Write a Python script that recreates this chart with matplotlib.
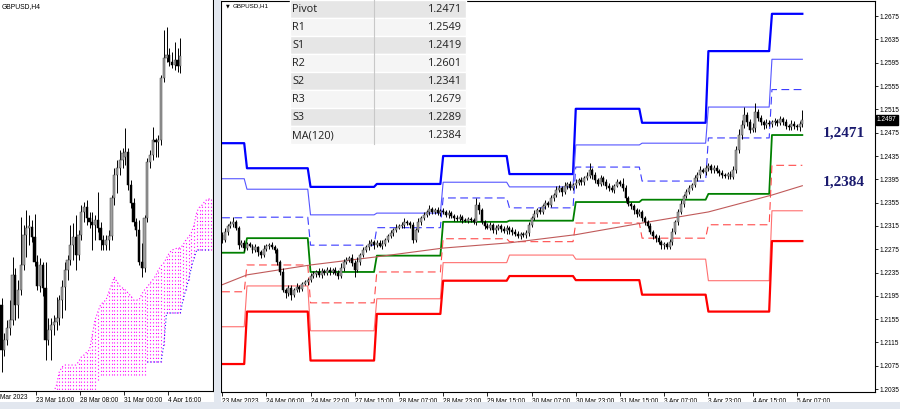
# GBPUSD H4 + H1 pivot chart (MT4 style screenshot)
import numpy as np
import matplotlib
matplotlib.use("Agg")
import matplotlib.pyplot as plt
from matplotlib.patches import Rectangle
import matplotlib.transforms as mtransforms

# ---------------- H1 data (prices in pips, /10000) ----------------
h1_first_open = 12300
h1_close = [
    12291, 12305, 12315, 12318, 12322, 12312, 12282, 12286, 12277, 12284,
    12281, 12274, 12279, 12270, 12265, 12276, 12281, 12282, 12279, 12274,
    12253, 12236, 12205, 12200, 12209, 12197, 12205, 12210, 12207, 12216,
    12219, 12222, 12229, 12233, 12236, 12231, 12238, 12234, 12240, 12236,
    12240, 12234, 12229, 12243, 12253, 12257, 12260, 12252, 12240, 12253,
    12265, 12274, 12279, 12284, 12288, 12282, 12286, 12281, 12284, 12291,
    12298, 12303, 12308, 12312, 12315, 12317, 12322, 12320, 12317, 12291,
    12308, 12322, 12329, 12334, 12339, 12344, 12339, 12342, 12337, 12341,
    12339, 12334, 12337, 12332, 12329, 12327, 12330, 12325, 12324, 12327,
    12325, 12322, 12351, 12342, 12322, 12315, 12312, 12317, 12308, 12312,
    12315, 12310, 12306, 12312, 12308, 12305, 12301, 12298, 12301, 12300,
    12303, 12317, 12329, 12336, 12342, 12339, 12349, 12354, 12351, 12363,
    12368, 12377, 12380, 12373, 12384, 12387, 12380, 12385, 12389, 12394,
    12390, 12397, 12401, 12411, 12402, 12394, 12387, 12397, 12390, 12384,
    12380, 12377, 12384, 12390, 12387, 12380, 12363, 12353, 12349, 12342,
    12336, 12339, 12329, 12322, 12315, 12305, 12298, 12294, 12288, 12282,
    12284, 12279, 12288, 12305, 12322, 12339, 12353, 12366, 12373, 12380,
    12385, 12397, 12402, 12411, 12408, 12414, 12418, 12411, 12414, 12409,
    12406, 12402, 12401, 12404, 12399, 12411, 12445, 12471, 12488, 12505,
    12493, 12480, 12483, 12510, 12500, 12493, 12488, 12492, 12490, 12493,
    12495, 12492, 12498, 12493, 12486, 12485, 12490, 12486, 12485, 12490, 12497]
h1_wick_up = [
    4, 6, 3, 5, 8, 4, 3, 5, 4, 3,
    4, 3, 5, 2, 4, 6, 3, 4, 5, 3,
    3, 4, 6, 3, 5, 4, 3, 7, 4, 3,
    4, 3, 5, 4, 3, 6, 4, 3, 5, 4,
    3, 4, 6, 8, 5, 4, 3, 6, 4, 9,
    4, 5, 3, 6, 4, 3, 5, 4, 6, 4,
    3, 5, 4, 6, 3, 5, 7, 4, 3, 5,
    4, 6, 3, 5, 4, 7, 3, 4, 5, 3,
    4, 3, 5, 4, 3, 4, 5, 3, 4, 3,
    4, 3, 12, 5, 4, 3, 5, 4, 3, 5,
    4, 3, 5, 4, 3, 5, 4, 6, 3, 4,
    5, 4, 3, 6, 4, 5, 3, 6, 4, 5,
    4, 6, 5, 3, 7, 4, 5, 3, 6, 4,
    5, 4, 6, 12, 4, 5, 3, 6, 4, 5,
    4, 5, 3, 6, 4, 10, 5, 4, 3, 4,
    3, 5, 4, 3, 4, 5, 3, 4, 5, 3,
    4, 3, 5, 6, 4, 5, 7, 4, 6, 5,
    4, 6, 5, 7, 4, 6, 5, 4, 6, 5,
    4, 5, 3, 4, 5, 6, 7, 10, 8, 14,
    6, 5, 8, 16, 6, 5, 4, 6, 5, 4,
    5, 4, 6, 4, 5, 4, 6, 5, 4, 5, 17]
h1_wick_dn = [
    5, 4, 6, 3, 5, 4, 7, 3, 5, 4,
    3, 5, 4, 6, 5, 3, 4, 5, 3, 6,
    5, 6, 4, 8, 5, 9, 4, 3, 5, 4,
    3, 5, 4, 3, 6, 4, 5, 3, 4, 5,
    4, 3, 5, 4, 6, 3, 4, 5, 12, 4,
    5, 3, 4, 5, 3, 6, 4, 3, 5, 4,
    4, 3, 5, 4, 3, 4, 5, 3, 6, 5,
    3, 4, 5, 3, 4, 5, 3, 4, 3, 5,
    4, 3, 5, 4, 6, 3, 4, 5, 3, 4,
    3, 4, 5, 6, 4, 5, 3, 4, 5, 6,
    4, 5, 3, 4, 6, 5, 4, 3, 5, 4,
    6, 5, 4, 3, 5, 4, 3, 5, 4, 3,
    5, 4, 3, 6, 4, 5, 3, 4, 5, 4,
    4, 5, 3, 4, 6, 5, 4, 3, 5, 6,
    5, 4, 6, 3, 4, 5, 6, 4, 5, 6,
    5, 4, 6, 5, 4, 3, 5, 6, 4, 7,
    6, 4, 3, 5, 4, 6, 4, 5, 3, 4,
    4, 3, 5, 4, 3, 5, 4, 6, 5, 4,
    5, 4, 3, 6, 4, 3, 5, 4, 6, 5,
    7, 5, 4, 6, 5, 4, 6, 5, 4, 6,
    5, 6, 4, 5, 4, 6, 5, 4, 6, 7, 5]

# daily pivot levels (one value per trading day shown)
day_bars = [9, 23, 24, 24, 24, 24, 24, 24, 23, 12]
r3 = [1.2457, 1.2414, 1.2382, 1.2387, 1.2435, 1.2404, 1.2516, 1.2492, 1.2615, 1.2679]
r2 = [1.2396, 1.2378, 1.2334, 1.2337, 1.2390, 1.2382, 1.2454, 1.2457, 1.2519, 1.2601]
r1 = [1.2329, 1.2330, 1.2282, 1.2312, 1.2363, 1.2346, 1.2416, 1.2392, 1.2466, 1.2549]
pp = [1.2269, 1.2294, 1.2236, 1.2264, 1.2322, 1.2324, 1.2356, 1.2360, 1.2370, 1.2471]
s1 = [1.2202, 1.2248, 1.2183, 1.2236, 1.2293, 1.2288, 1.2320, 1.2294, 1.2317, 1.2419]
s2 = [1.2142, 1.2212, 1.2135, 1.2190, 1.2252, 1.2265, 1.2258, 1.2258, 1.2221, 1.2341]
s3 = [1.2078, 1.2168, 1.2084, 1.2164, 1.2221, 1.2229, 1.2222, 1.2197, 1.2168, 1.2289]

# MA(120) on H1
ma_idx = [0, 9, 32, 56, 80, 104, 128, 152, 176, 199, 210]
ma_val = [1.2214, 1.2231, 1.2248, 1.2262, 1.2277, 1.2286, 1.2300, 1.2320, 1.2339, 1.2368, 1.2384]

h1_labels = ["23 Mar 2023", "24 Mar 06:00", "24 Mar 22:00", "27 Mar 15:00", "28 Mar 07:00",
             "28 Mar 23:00", "29 Mar 15:00", "30 Mar 07:00", "30 Mar 23:00", "31 Mar 15:00",
             "3 Apr 07:00", "3 Apr 23:00", "4 Apr 15:00", "5 Apr 07:00"]

# ---------------- H4 data (pips) ----------------
h4_open = [12247, 12202, 12212, 12224, 12232, 12277, 12247, 12262, 12287, 12317,
           12324, 12325, 12315, 12290, 12266, 12287, 12264, 12212, 12222, 12227,
           12230, 12234, 12252, 12265, 12282, 12292, 12307, 12315, 12297, 12317,
           12340, 12345, 12334, 12330, 12327, 12332, 12324, 12312, 12307, 12312,
           12316, 12354, 12377, 12384, 12392, 12395, 12400, 12367, 12349, 12330,
           12322, 12290, 12284, 12334, 12390, 12397, 12412, 12410, 12412, 12474,
           12494, 12497, 12490, 12487, 12492, 12486]
h4_close = [12202, 12212, 12224, 12232, 12277, 12247, 12262, 12287, 12317, 12324,
            12326, 12315, 12290, 12266, 12287, 12264, 12212, 12222, 12227, 12230,
            12234, 12252, 12265, 12282, 12292, 12307, 12315, 12297, 12317, 12340,
            12345, 12334, 12330, 12327, 12332, 12324, 12312, 12307, 12312, 12316,
            12354, 12377, 12384, 12392, 12399, 12400, 12367, 12349, 12330, 12322,
            12290, 12284, 12334, 12390, 12397, 12412, 12410, 12412, 12474, 12494,
            12497, 12490, 12487, 12492, 12486, 12496]
h4_high = [12254, 12219, 12232, 12252, 12295, 12284, 12272, 12335, 12327, 12342,
           12337, 12332, 12338, 12297, 12294, 12290, 12290, 12234, 12234, 12237,
           12255, 12257, 12272, 12290, 12297, 12327, 12329, 12337, 12322, 12347,
           12350, 12352, 12340, 12340, 12337, 12360, 12330, 12317, 12317, 12322,
           12357, 12384, 12392, 12402, 12404, 12424, 12404, 12372, 12354, 12334,
           12332, 12309, 12337, 12394, 12402, 12425, 12414, 12417, 12477, 12522,
           12525, 12504, 12500, 12510, 12504, 12514]
h4_low = [12180, 12196, 12207, 12217, 12227, 12232, 12234, 12257, 12282, 12295,
          12307, 12310, 12286, 12262, 12260, 12256, 12192, 12207, 12192, 12217,
          12222, 12227, 12234, 12242, 12272, 12287, 12292, 12282, 12292, 12312,
          12330, 12327, 12324, 12302, 12312, 12320, 12302, 12302, 12302, 12302,
          12312, 12347, 12359, 12377, 12384, 12387, 12362, 12344, 12326, 12316,
          12287, 12275, 12280, 12330, 12384, 12392, 12395, 12395, 12407, 12470,
          12490, 12486, 12484, 12482, 12480, 12479]
# ichimoku cloud, bars 19..76
cloud_start = 19
span_up = [12160, 12167, 12180, 12185, 12187, 12187, 12187, 12187, 12187, 12190,
           12195, 12197, 12200, 12202, 12217, 12232, 12240, 12247, 12250, 12252,
           12260, 12267, 12275, 12270, 12266, 12264, 12262, 12259, 12256, 12252,
           12252, 12252, 12258, 12262, 12265, 12269, 12272, 12276, 12282, 12286,
           12289, 12294, 12299, 12302, 12303, 12304, 12304, 12307, 12312, 12315,
           12319, 12327, 12340, 12345, 12347, 12351, 12353, 12353]
span_dn = [12152] * 16 + [12172] + [12177] * 17 + [12190] * 6 + [12207] + [12239] * 6 + \
          [12252, 12262, 12272, 12284, 12294] + [12302] * 6
h4_ticks = [12.6, 28.6, 44.6, 60.6]
h4_labels = ["23 Mar 16:00", "28 Mar 08:00", "31 Mar 00:00", "4 Apr 16:00"]

TICKFONT = dict(family="Liberation Sans", size=4.7)


def draw_candles(ax, o, h, l, c, w=0.72):
    x = np.arange(len(c))
    bull = c >= o
    ax.vlines(x, l, h, color="black", lw=0.7, zorder=3)
    ax.bar(x[bull], (c - o)[bull], bottom=o[bull], width=w, color="#a0a0a0",
           edgecolor="#404040", lw=0.35, zorder=4)
    ax.bar(x[~bull], (c - o)[~bull], bottom=o[~bull], width=w, color="black",
           edgecolor="black", lw=0.35, zorder=4)


fig = plt.figure(figsize=(9, 4.09), dpi=100)
fig.patch.set_facecolor("white")

# ---------------- left panel: H4 ----------------
axl = fig.add_axes([0, 18 / 409, 213 / 900, 391 / 409])
o4 = np.array(h4_open) / 1e4
c4 = np.array(h4_close) / 1e4
hi4 = np.array(h4_high) / 1e4
lo4 = np.array(h4_low) / 1e4
draw_candles(axl, o4, hi4, lo4, c4, w=0.8)
cx = np.arange(cloud_start, cloud_start + len(span_up))
up = np.array(span_up) / 1e4
dn = np.array(span_dn) / 1e4
axl.vlines(cx, dn, up, color="#ff00ff", lw=0.8, linestyles=(0, (1, 2.2)), zorder=2)
axl.plot(cx, up, color="#ff00ff", lw=0.8, ls=(0, (1, 2)), zorder=2)
blue_part = cx >= 53
axl.plot(cx[blue_part], dn[blue_part], color="#2020ff", lw=0.8, ls=(0, (1, 2)), zorder=2)
axl.set_xlim(-0.55, 76.9)
axl.set_ylim(1.2161, 1.2552)
axl.set_yticks([])
axl.set_xticks(h4_ticks)
axl.set_xticklabels(h4_labels, **TICKFONT)
for lb in axl.get_xticklabels():
    lb.set_ha("left")
axl.tick_params(axis="x", length=3, width=0.6, pad=1.5)
# first date label is cut by the window edge in the screenshot: only its tail shows
axl.text(0.002, -0.008, "Mar 2023", transform=axl.transAxes,
         ha="left", va="top", clip_on=False, **TICKFONT)
axl.text(0.008, 0.993, "GBPUSD,H4", transform=axl.transAxes, ha="left", va="top",
         family="Liberation Sans", size=4.9)
for s in axl.spines.values():
    s.set_linewidth(0.8)
axl.spines["top"].set_visible(False)
axl.spines["left"].set_visible(False)

# ---------------- right panel: H1 ----------------
axr = fig.add_axes([221 / 900, 17 / 409, 654 / 900, 391 / 409])
c1 = np.array(h1_close) / 1e4
o1 = np.r_[h1_first_open, h1_close[:-1]] / 1e4
hi1 = np.maximum(o1, c1) + np.array(h1_wick_up) / 1e4
lo1 = np.minimum(o1, c1) - np.array(h1_wick_dn) / 1e4
draw_candles(axr, o1, hi1, lo1, c1)

bars = np.arange(sum(day_bars))
levels = [
    (r3, dict(color="#0000ff", lw=1.6)),
    (r2, dict(color="#5555ff", lw=0.8)),
    (r1, dict(color="#3a3aff", lw=0.8, ls=(0, (7, 4)))),
    (pp, dict(color="#008000", lw=1.3)),
    (s1, dict(color="#ff4a4a", lw=0.8, ls=(0, (7, 4)))),
    (s2, dict(color="#ff7070", lw=0.8)),
    (s3, dict(color="#ff0000", lw=1.6)),
]
for vals, st in levels:
    axr.plot(bars, np.repeat(vals, day_bars), zorder=2, **st)
axr.plot(ma_idx, ma_val, color="#c05a5a", lw=0.8, zorder=2)

axr.set_xlim(-0.4, 236.3)
axr.set_ylim(1.2030, 1.2701)
axr.set_xticks(np.arange(len(h1_labels)) * 16)
axr.set_xticklabels(h1_labels, **TICKFONT)
for lb in axr.get_xticklabels():
    lb.set_ha("left")
axr.yaxis.tick_right()
yt = np.arange(1.2035, 1.2700, 0.004)
axr.set_yticks(yt)
axr.set_yticklabels([f"{v:.4f}" for v in yt], **TICKFONT)
axr.tick_params(axis="x", length=3, width=0.6, pad=1.5)
axr.tick_params(axis="y", length=2.5, width=0.6, pad=1)
for s in axr.spines.values():
    s.set_linewidth(0.8)

# last price box
bt = mtransforms.blended_transform_factory(axr.transAxes, axr.transData)
axr.text(1.003, c1[-1], f"{c1[-1]:.4f}", transform=bt, ha="left", va="center", color="white",
         family="Liberation Sans", size=4.7, clip_on=False,
         bbox=dict(boxstyle="square,pad=0.2", fc="black", ec="black"))

# level annotations
axr.text(225, pp[-1] + 0.0003, f"{pp[-1]:.4f}".replace(".", ","), ha="center", va="center",
         family="Liberation Serif", weight="bold", size=11, color="#1a1a6e")
axr.text(225, ma_val[-1] + 0.0006, f"{ma_val[-1]:.4f}".replace(".", ","), ha="center", va="center",
         family="Liberation Serif", weight="bold", size=11, color="#1a1a6e")
axr.text(0.007, 0.993, "\u25BC", transform=axr.transAxes, ha="left", va="top",
         family="DejaVu Sans", size=3.5)
axr.text(0.018, 0.995, "GBPUSD,H1", transform=axr.transAxes, ha="left", va="top",
         family="Liberation Sans", size=4.5)

# ---------------- overlay: window chrome + table ----------------
ov = fig.add_axes([0, 0, 1, 1], zorder=10)
ov.set_xlim(0, 900)
ov.set_ylim(409, 0)
ov.axis("off")
ov.patch.set_alpha(0)
ov.add_patch(Rectangle((214, 0), 6.5, 409, fc="#e2e7ef", ec="none"))
ov.add_patch(Rectangle((0, 402), 900, 7, fc="#e2e7ef", ec="none"))

row_names = ["Pivot", "R1", "S1", "R2", "S2", "R3", "S3", "MA(120)"]
row_vals = [pp[-1], r1[-1], s1[-1], r2[-1], s2[-1], r3[-1], s3[-1], ma_val[-1]]
for i, (nm, v) in enumerate(zip(row_names, row_vals)):
    y0 = i * 18
    fc = "#e6e6e6" if i % 2 == 0 else "#f5f5f5"
    ov.add_patch(Rectangle((290, y0), 176, 18, fc=fc, ec="white", lw=1))
    ov.text(292, y0 + 9.5, nm, ha="left", va="center", family="Open Sans", size=7.8, color="#202020")
    ov.text(462, y0 + 9.5, f"{v:.4f}", ha="right", va="center", family="Open Sans", size=7.8,
            color="#202020")
ov.plot([374, 374], [0, 144], color="#c8c8c8", lw=0.8)

fig.savefig("out.png", dpi=100)
